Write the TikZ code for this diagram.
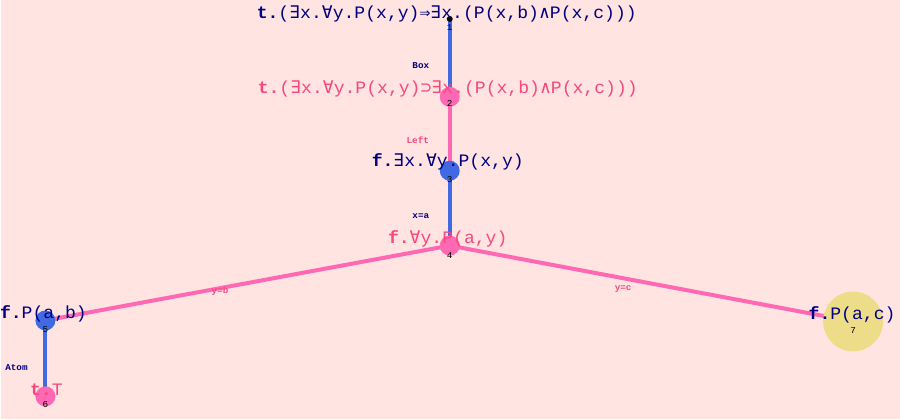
\documentclass[tikz,border=0pt]{standalone}
\usepackage{fontspec}
\newfontfamily\monof[FakeStretch=1.035]{Liberation Mono}
\newfontfamily\symf[FakeStretch=1.035]{DejaVu Sans Mono}
\newcommand{\sy}[1]{{\symf #1}}
\definecolor{bgc}{HTML}{FFE4E1}
\definecolor{blueline}{HTML}{4169E1}
\definecolor{pinkline}{HTML}{FF69B4}
\definecolor{yellowc}{HTML}{EEDD88}
\definecolor{navyt}{HTML}{000080}
\definecolor{pinkt}{HTML}{F5487F}
\begin{document}
\begin{tikzpicture}[x=1pt,y=-1pt,
  main/.style={font=\monof\fontsize{17.5}{20}\selectfont, inner sep=0pt, anchor=base},
  nv/.style={text=navyt},
  pk/.style={text=pinkt},
  ball/.style={circle, minimum size=20pt, inner sep=0pt},
  num/.style={font=\monof\fontsize{9}{10}\selectfont, text=black, inner sep=0pt},
  elab/.style={font=\monof\bfseries\fontsize{9}{10}\selectfont, inner sep=0pt},
  bedge/.style={line width=4pt, draw=blueline},
  pedge/.style={line width=4pt, draw=pinkline}]
\fill[bgc] (0,0) rectangle (900,420);
% tree nodes
\coordinate (n1) at (449,19);
\coordinate (n2) at (449,97);
\coordinate (n3) at (449,171);
\coordinate (n4) at (449,246);
\coordinate (n5) at (44,321);
\coordinate (n6) at (44,397);
\coordinate (n7) at (853,322);
% edges
\draw[bedge] (n1) -- node[pos=0.6, xshift=-29pt, elab, text=navyt] {Box} (n2);
\draw[pedge] (n2) -- node[pos=0.59, xshift=-32pt, elab, text=pinkt] {Left} (n3);
\draw[bedge] (n3) -- node[pos=0.61, xshift=-29pt, elab, text=navyt] {x=a} (n4);
\draw[pedge] (n4) -- node[pos=0.568, yshift=-3pt, elab, text=pinkt] {y=b} (n5);
\draw[pedge] (n4) -- node[pos=0.43, yshift=-11pt, elab, text=pinkt] {y=c} (n7);
\draw[bedge] (n5) -- node[pos=0.62, xshift=-29pt, elab, text=navyt] {Atom} (n6);
% circles
\fill[black] (n1) circle (3);
\node[ball, fill=pinkline] (b2) at (n2) {};
\node[ball, fill=blueline] (b3) at (n3) {};
\node[ball, fill=pinkline] (b4) at (n4) {};
\node[ball, fill=blueline] (b5) at (n5) {};
\node[ball, fill=pinkline] (b6) at (n6) {};
\node[circle, minimum size=60pt, inner sep=0pt, fill=yellowc] (b7) at (n7) {};
% texts
\node[main, nv] (l1) at (446,19) {\textbf{t.}(\sy{∃}x.\sy{∀}y.P(x,y)\sy{⇒}\sy{∃}x.(P(x,b)\sy{∧}P(x,c)))};
\node[main, pk] (l2) at (447,94) {\textbf{t.}(\sy{∃}x.\sy{∀}y.P(x,y)\sy{⊃}\sy{∃}x.(P(x,b)\sy{∧}P(x,c)))};
\node[main, nv] (l3) at (447,167) {\textbf{f.}\sy{∃}x.\sy{∀}y.P(x,y)};
\node[main, pk] (l4) at (447,244) {\textbf{f.}\sy{∀}y.P(a,y)};
\node[main, nv] (l5) at (42,319) {\textbf{f.}P(a,b)};
\node[main, pk] (l6) at (45,396) {\textbf{t.}T};
\node[main, nv] (l7) at (852,320) {\textbf{f.}P(a,c)};
% numbers
\node[num] (k1) at (449,28) {1};
\node[num] (k2) at (449,104) {2};
\node[num] (k3) at (449,180) {3};
\node[num] (k4) at (449,256) {4};
\node[num] (k5) at (44,330) {5};
\node[num] (k6) at (44,405) {6};
\node[num] (k7) at (853,331) {7};
\end{tikzpicture}
\end{document}
